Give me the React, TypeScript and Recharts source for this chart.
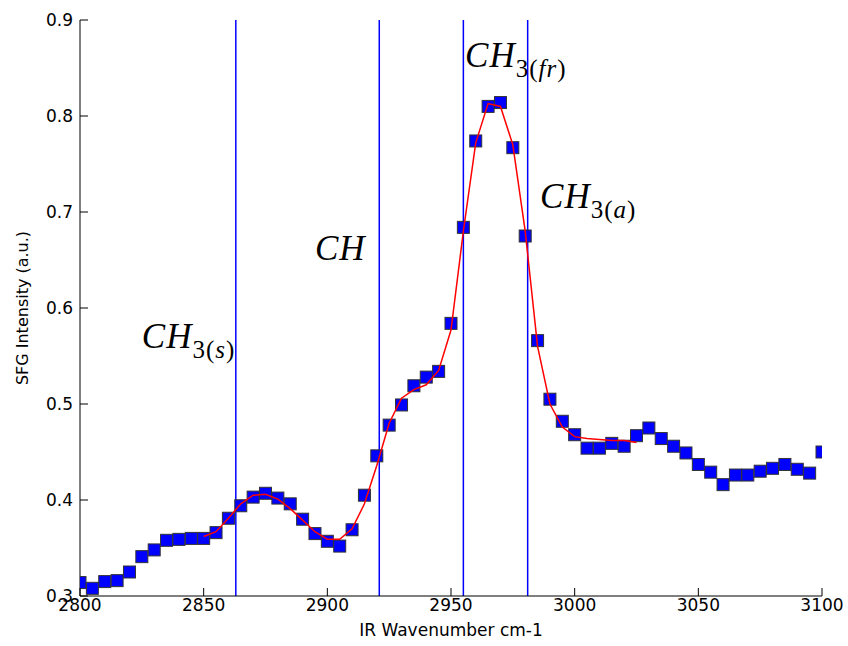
import React from 'react';
import {
  ComposedChart,
  Scatter,
  Line,
  XAxis,
  YAxis,
  ReferenceLine,
  ReferenceDot,
} from 'recharts';

const wavenumbers = [
  2800, 2805, 2810, 2815, 2820, 2825, 2830, 2835, 2840, 2845,
  2850, 2855, 2860, 2865, 2870, 2875, 2880, 2885, 2890, 2895,
  2900, 2905, 2910, 2915, 2920, 2925, 2930, 2935, 2940, 2945,
  2950, 2955, 2960, 2965, 2970, 2975, 2980, 2985, 2990, 2995,
  3000, 3005, 3010, 3015, 3020, 3025, 3030, 3035, 3040, 3045,
  3050, 3055, 3060, 3065, 3070, 3075, 3080, 3085, 3090, 3095,
  3100,
];

const intensity = [
  0.314, 0.308, 0.315, 0.316, 0.325, 0.341, 0.348, 0.358, 0.359, 0.360,
  0.360, 0.366, 0.381, 0.394, 0.403, 0.407, 0.402, 0.396, 0.380, 0.365,
  0.357, 0.352, 0.369, 0.405, 0.446, 0.478, 0.499, 0.519, 0.528, 0.534,
  0.584, 0.684, 0.774, 0.810, 0.814, 0.767, 0.675, 0.566, 0.505, 0.482,
  0.468, 0.454, 0.454, 0.459, 0.456, 0.467, 0.475, 0.464, 0.456, 0.449,
  0.437, 0.429, 0.416, 0.426, 0.426, 0.430, 0.433, 0.437, 0.432, 0.428,
  0.450,
];

const fitX = [
  2850, 2855, 2860, 2865, 2870, 2875, 2880, 2885, 2890, 2895,
  2900, 2905, 2910, 2915, 2920, 2925, 2930, 2935, 2940, 2945,
  2950, 2955, 2960, 2965, 2970, 2975, 2980, 2985, 2990, 2995,
  3000, 3005, 3010, 3015, 3020, 3025,
];

const fitY = [
  0.362, 0.367, 0.381, 0.396, 0.405, 0.406, 0.401, 0.391, 0.379, 0.367,
  0.359, 0.359, 0.370, 0.396, 0.436, 0.480, 0.506, 0.515, 0.520, 0.535,
  0.577, 0.680, 0.772, 0.813, 0.810, 0.770, 0.680, 0.560, 0.500, 0.476,
  0.466, 0.464, 0.463, 0.462, 0.462, 0.460,
];

const peakLines = [2863, 2921, 2955, 2981];

const peakLabels = [
  { x: 2825, y: 0.558, main: 'CH', sub: '3', mode: 's' },
  { x: 2895, y: 0.65, main: 'CH', sub: '', mode: '' },
  { x: 2955.7, y: 0.851, main: 'CH', sub: '3', mode: 'fr' },
  { x: 2986, y: 0.704, main: 'CH', sub: '3', mode: 'a' },
];

const xTicks = [2800, 2850, 2900, 2950, 3000, 3050, 3100];
const yTicks = [0.3, 0.4, 0.5, 0.6, 0.7, 0.8, 0.9];

const points = wavenumbers.map((x, i) => ({ x, y: intensity[i] }));
const fit = fitX.map((x, i) => ({ x, fit: fitY[i] }));

const sans = "'DejaVu Sans', sans-serif";
const serif = "'Liberation Serif', 'DejaVu Serif', serif";

const XTick = (props: any) => {
  const { x, y, payload } = props;
  return (
    <g>
      <line x1={x} x2={x} y1={y} y2={y - 8} stroke="#000" />
      <text x={x} y={y + 15} textAnchor="middle" fontFamily={sans} fontSize={17} fill="#000">
        {payload.value}
      </text>
    </g>
  );
};

const YTick = (props: any) => {
  const { x, y, payload } = props;
  return (
    <g>
      <line x1={x} x2={x + 8} y1={y} y2={y} stroke="#000" />
      <text x={x - 7} y={y + 6} textAnchor="end" fontFamily={sans} fontSize={17} fill="#000">
        {Number(payload.value).toFixed(1)}
      </text>
    </g>
  );
};

const TopTick = (props: any) => {
  const { x, y } = props;
  return <line x1={x} x2={x} y1={y} y2={y + 8} stroke="#000" />;
};

const RightTick = (props: any) => {
  const { x, y } = props;
  return <line x1={x} x2={x - 8} y1={y} y2={y} stroke="#000" />;
};

const Square = (props: any) => {
  const { cx, cy } = props;
  return <rect x={cx - 6} y={cy - 6} width={12} height={12} fill="#0000ff" stroke="#333" strokeWidth={1} />;
};

const mathLabel = (main: string, sub: string, mode: string) => (props: any) => {
  const { viewBox } = props;
  return (
    <text x={viewBox.x} y={viewBox.y} fontFamily={serif} fontSize={35} letterSpacing={1} fill="#000">
      <tspan fontStyle="italic">{main}</tspan>
      {sub && (
        <tspan fontSize={25} dy={10}>
          {sub}
          {mode && (
            <>
              <tspan>(</tspan>
              <tspan fontStyle="italic">{mode}</tspan>
              <tspan>)</tspan>
            </>
          )}
        </tspan>
      )}
    </text>
  );
};

export default function App() {
  return (
    <div style={{ position: 'absolute', left: 0, top: 0 }}>
      <ComposedChart width={848} height={646} margin={{ top: 20, right: 26, left: 0, bottom: 0 }}>
        <XAxis
          dataKey="x"
          type="number"
          domain={[2800, 3100]}
          ticks={xTicks}
          allowDataOverflow
          height={50}
          tickSize={0}
          tickMargin={0}
          tick={<XTick />}
          axisLine={{ stroke: '#000' }}
          label={{
            content: (p: any) => (
              <text
                x={p.viewBox.x + p.viewBox.width / 2}
                y={p.viewBox.y + 40}
                textAnchor="middle"
                fontFamily={sans}
                fontSize={17}
                fill="#000"
              >
                IR Wavenumber cm-1
              </text>
            ),
          }}
        />
        <XAxis
          xAxisId="top"
          orientation="top"
          type="number"
          domain={[2800, 3100]}
          ticks={xTicks}
          allowDataOverflow
          height={0}
          tickSize={0}
          tickMargin={0}
          tick={<TopTick />}
          axisLine={{ stroke: '#000' }}
        />
        <YAxis
          type="number"
          domain={[0.3, 0.9]}
          ticks={yTicks}
          allowDataOverflow
          width={80}
          tickSize={0}
          tickMargin={0}
          tick={<YTick />}
          axisLine={{ stroke: '#000' }}
          label={{
            content: (p: any) => {
              const cx = p.viewBox.x + 22;
              const cy = p.viewBox.y + p.viewBox.height / 2;
              return (
                <text
                  x={cx}
                  y={cy}
                  transform={`rotate(-90 ${cx} ${cy})`}
                  textAnchor="middle"
                  dominantBaseline="central"
                  fontFamily={sans}
                  fontSize={16}
                  fill="#000"
                >
                  SFG Intensity (a.u.)
                </text>
              );
            },
          }}
        />
        <YAxis
          yAxisId="right"
          orientation="right"
          type="number"
          domain={[0.3, 0.9]}
          ticks={yTicks}
          allowDataOverflow
          width={0}
          tickSize={0}
          tickMargin={0}
          tick={<RightTick />}
          axisLine={{ stroke: '#000' }}
        />
        {peakLines.map((x) => (
          <ReferenceLine key={x} x={x} stroke="#0000ff" strokeWidth={1.5} />
        ))}
        <Scatter data={points} dataKey="y" shape={<Square />} isAnimationActive={false} />
        <Line
          data={fit}
          dataKey="fit"
          type="linear"
          stroke="#ff0000"
          strokeWidth={1.5}
          dot={false}
          activeDot={false}
          zIndex={700}
          isAnimationActive={false}
        />
        {peakLabels.map((l, i) => (
          <ReferenceDot
            key={i}
            x={l.x}
            y={l.y}
            r={0}
            fill="none"
            stroke="none"
            ifOverflow="visible"
            label={{ content: mathLabel(l.main, l.sub, l.mode) }}
          />
        ))}
      </ComposedChart>
    </div>
  );
}
